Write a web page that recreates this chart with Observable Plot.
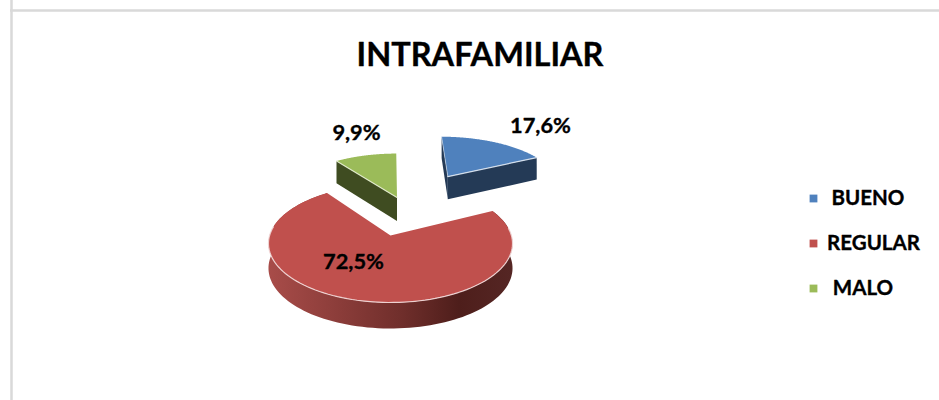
<!DOCTYPE html>
<html lang="es">
<head>
<meta charset="utf-8">
<style>html,body{margin:0;padding:0;background:#fff}svg{display:block}</style>
<script src="https://cdn.jsdelivr.net/npm/d3@7"></script>
<script src="https://cdn.jsdelivr.net/npm/@observablehq/plot@0.6"></script>
</head>
<body>
<div id="chart"></div>
<script>
const chartTitle = "INTRAFAMILIAR";
const categories = ["BUENO", "REGULAR", "MALO"];
const shares = [17.6, 72.5, 9.9];
const shareLabels = ["17,6%", "72,5%", "9,9%"];
const topColors = ["#4f81bd", "#c0504d", "#9bbb59"];
const wallColors = ["#243a56", "url(#redWall)", "#3f4c21"];

// Pie camera: apex of the unexploded slice, axis scale and perspective strength
const cam = {x: 390, y: 235, A: 120.9, B: 57.9, k: 0.1357};
// Explosion: where each slice's apex sits on the pie's plane, and its radius
const exploded = [[0.55, 1.18, 1.04], [0, 0, 1], [0.059, 0.721, 1.03]];

const project = (u, v) => {
  const den = 1 + cam.k * v;
  return {x: cam.x + cam.A * u / den, y: cam.y - cam.B * v / den, depth: 24.5 - 1.5 * v};
};
const total = d3.sum(shares);
const ends = d3.cumsum(shares).map(c => c / total * 2 * Math.PI);
const slices = categories.map((name, i) => ({
  name, i,
  a0: i ? ends[i - 1] : 0,
  a1: ends[i],
  u0: exploded[i][0],
  v0: exploded[i][1],
  r: exploded[i][2]
}));
const rim = (s, a) => project(s.u0 + s.r * Math.sin(a), s.v0 + s.r * Math.cos(a));
const apex = s => project(s.u0, s.v0);
const arc = (s, n = 120) => d3.range(n + 1).map(j => rim(s, s.a0 + (s.a1 - s.a0) * j / n));
const sink = p => ({x: p.x, y: p.y + p.depth});
const wallOf = pts => [...pts, ...pts.slice().reverse().map(sink)];

const [blue, red, green] = slices;

const poly = (pts, fill) =>
  Plot.line([...pts, pts[0]], {x: "x", y: "y", fill, stroke: "none", curve: "linear"});
const edge = (pts, stroke, strokeWidth, strokeOpacity) =>
  Plot.line(pts, {x: "x", y: "y", stroke, strokeWidth, strokeOpacity, curve: "linear"});

const labelPos = [[540, 126], [353, 262], [356, 133]];
const legendRows = [{x: 867.5, y: 198}, {x: 873, y: 243}, {x: 862.5, y: 288}];
const font = "Lato, Carlito, Calibri, sans-serif";
const heavy = {fontFamily: font, fontWeight: 700, fill: "#000", stroke: "#000", strokeWidth: 0.35};

const defs = () => {
  const d = d3.create("svg:defs");
  const g = d.append("linearGradient").attr("id", "redWall").attr("x1", 0).attr("x2", 1).attr("y1", 0).attr("y2", 0);
  [[0, "#a84c49"], [0.3, "#8a3c39"], [0.55, "#6f2e2b"], [0.78, "#4e1e1b"], [1, "#552624"]]
    .forEach(([o, c]) => g.append("stop").attr("offset", o).attr("stop-color", c));
  return d.node();
};

const plot = Plot.plot({
  width: 939,
  height: 400,
  margin: 0,
  x: {domain: [0, 939], range: [0, 939], axis: null},
  y: {domain: [0, 400], range: [0, 400], axis: null},
  style: {background: "#fff"},
  marks: [
    defs,
    Plot.ruleX([11], {stroke: "#d9d9d9", strokeWidth: 2.5}),
    Plot.ruleY([10], {x1: 10, x2: 939, stroke: "#d9d9d9", strokeWidth: 2.5}),

    // walls
    poly(wallOf(arc(red)), wallColors[1]),
    poly(wallOf([rim(blue, blue.a0), apex(blue)]), wallColors[0]),
    poly(wallOf([apex(blue), rim(blue, blue.a1)]), wallColors[0]),
    poly(wallOf([rim(green, green.a0), apex(green)]), wallColors[2]),

    // top faces
    ...slices.map(s => poly([apex(s), ...arc(s)], topColors[s.i])),

    // light bevels on the near edges
    edge(arc(red).filter(p => p.y > rim(red, Math.PI * 0.45).y), "#f3dcdb", 1.2, 0.9),
    edge([apex(blue), rim(blue, blue.a1)], "#dfe8f3", 1.2, 0.9),
    edge([apex(blue), rim(blue, blue.a0)], "#dfe8f3", 0.8, 0.7),
    edge([rim(green, green.a0), apex(green)], "#e6eed2", 1.2, 0.9),

    // title and slice labels
    Plot.text([chartTitle], {x: () => 479.5, y: () => 55.5, text: d => d, ...heavy, fontSize: 32.5}),
    Plot.text(shareLabels, {x: (d, i) => labelPos[i][0], y: (d, i) => labelPos[i][1], text: d => d, ...heavy, fontSize: 21.8}),

    // legend
    Plot.dot(categories, {x: () => 813, y: (d, i) => legendRows[i].y, symbol: "square", r: 4.4, fill: (d, i) => topColors[i], stroke: "none"}),
    Plot.text(categories, {x: (d, i) => legendRows[i].x, y: (d, i) => legendRows[i].y, text: d => d, ...heavy, fontSize: 20.5})
  ]
});
document.getElementById("chart").append(plot);
</script>
</body>
</html>
